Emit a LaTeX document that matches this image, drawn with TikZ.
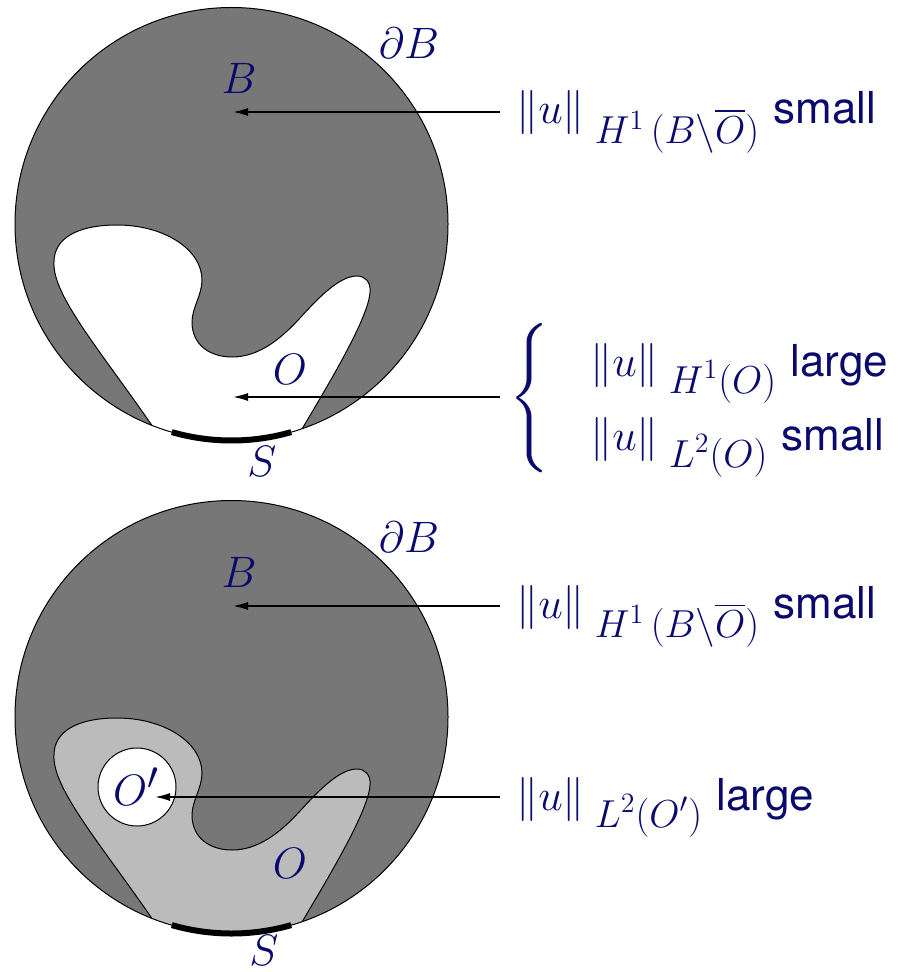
\RequirePackage{fix-cm}
\documentclass[tikz,border=0pt]{standalone}
\usepackage{exscale}
\usepackage{fontspec}
\setsansfont{TeX Gyre Heros}
\usepackage{tikz}
\usetikzlibrary{
    arrows.meta
}
\definecolor{navy}{RGB}{10,10,110}
\definecolor{ballgray}{RGB}{119,119,119}
\definecolor{blobgray}{RGB}{187,187,187}
\DeclareMathSizes{22}{22}{19.5}{14}
\tikzstyle{tag} = [
    text=navy,
    font=\fontsize{22}{26}\selectfont,
    inner sep=0pt
]
\tikzstyle{normtext} = [
    tag,
    anchor=base west,
    inner xsep=8pt
]
\tikzstyle{pointer} = [
    -{Latex[length=7.5pt,width=4pt]},
    line width=0.75pt
]
\tikzstyle{edge} = [
    line width=0.5pt
]
\tikzstyle{sarc} = [
    line width=3pt
]
\newcommand{\unorm}[1]{\left\|u\right\|_{\kern5pt\lower2pt\hbox{$\scriptstyle #1$}}}
% outline of O, in the pixel frame of the upper ball
\newcommand{\blobshape}{
    (159,436) -- (153,427)
    .. controls (100,350) and (52,295) .. (54,262)
    .. controls (54,238) and (78,225) .. (117,225)
    .. controls (165,225) and (202,250) .. (202,280)
    .. controls (202,295) and (192,308) .. (192,322)
    .. controls (192,345) and (210,357) .. (232,357)
    .. controls (258,357) and (280,340) .. (300,318)
    .. controls (320,296) and (340,276) .. (357,276)
    .. controls (365,276) and (371,282) .. (370,292)
    .. controls (369,318) and (325,390) .. (302,429)
    -- (297,437) -- (297,470) -- (159,470) -- cycle
}

\begin{document}
\begin{tikzpicture}[x=0.5pt, y=-0.5pt]
    \useasboundingbox (0,0) rectangle (903,972);

    % Upper ball, O is a hole
    \coordinate (ballA) at (231.5,224);
    \fill[ballgray] (ballA) circle (216.5);
    \begin{scope}
        \clip (ballA) circle (216.5);
        \filldraw[edge, fill=white] \blobshape;
    \end{scope}
    \draw[edge] (ballA) circle (216.5);
    \draw[sarc] ([shift={(106:216.5)}]ballA) arc (106:74:216.5);

    \node[tag, anchor=base] (dBA) at (409,59) {$\partial B$};
    \node[tag, anchor=base] (BA) at (239,94) {$B$};
    \node[tag, anchor=base] (OA) at (290,385) {$O$};
    \node[tag, anchor=base] (SA) at (262,476) {$S$};

    % Norms for the upper ball
    \coordinate (tipBA) at (233,112);
    \node[normtext] (normBA) at (500,124)
        {$\unorm{H^1\,(B\setminus\overline{O})}$ \textsf{small}};
    \draw[pointer] (normBA.west |- tipBA) -- (tipBA);

    \coordinate (tipOA) at (233,397);
    \node[tag, font=\fontsize{34.5}{38}\selectfont, anchor=west, inner xsep=4.5pt] (brace) at (500,398)
        {$\left\{\vcenter{\hbox{\rule{0pt}{74pt}}}\right.$};
    \draw[pointer] (brace.west |- tipOA) -- (tipOA);
    \node[tag, anchor=base west] (normHA) at (590,376)
        {$\unorm{H^1(O)}$ \textsf{large}};
    \node[tag, anchor=base west] (normLA) at (590,450)
        {$\unorm{L^2(O)}$ \textsf{small}};

    % Lower ball, O holds a smaller O'
    \begin{scope}[shift={(0,493)}]
        \coordinate (ballB) at (231.5,224);
        \fill[ballgray] (ballB) circle (216.5);
        \begin{scope}
            \clip (ballB) circle (216.5);
            \filldraw[edge, fill=blobgray] \blobshape;
        \end{scope}
        \draw[edge] (ballB) circle (216.5);
        \draw[sarc] ([shift={(106:216.5)}]ballB) arc (106:74:216.5);
        \filldraw[edge, fill=white] (137,294) circle (39);

        \node[tag, anchor=base] (dBB) at (409,59) {$\partial B$};
        \node[tag, anchor=base] (BB) at (239,94) {$B$};
        \node[tag, anchor=base] (OB) at (290,385) {$O$};
        \node[tag, anchor=base] (OpB) at (136,312) {$O'$};
        \node[tag, anchor=base] (SB) at (264,472) {$S$};

        % Norms for the lower ball
        \coordinate (tipBB) at (233,113);
        \node[normtext] (normBB) at (500,125)
            {$\unorm{H^1\,(B\setminus\overline{O})}$ \textsf{small}};
        \draw[pointer] (normBB.west |- tipBB) -- (tipBB);

        \coordinate (tipOpB) at (155,304);
        \node[normtext] (normOpB) at (500,317)
            {$\unorm{L^2(O')}$ \textsf{large}};
        \draw[pointer] (normOpB.west |- tipOpB) -- (tipOpB);
    \end{scope}
\end{tikzpicture}
\end{document}
